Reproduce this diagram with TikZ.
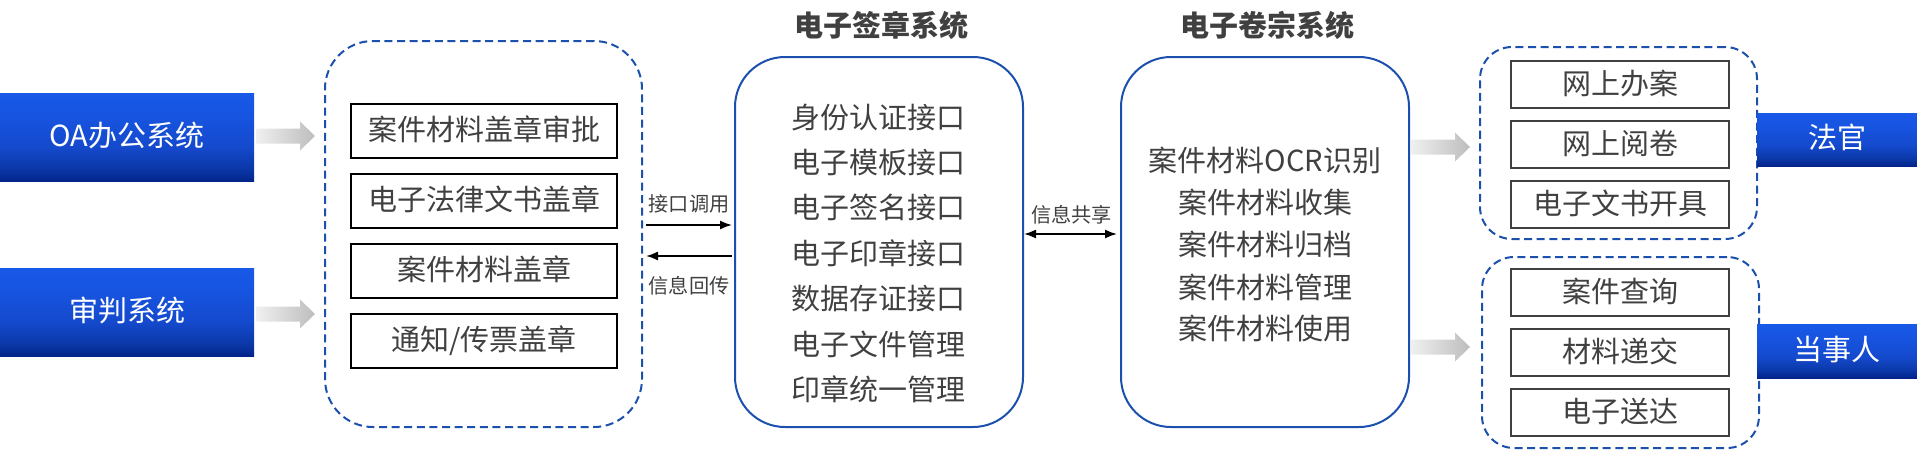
\documentclass[tikz,border=0pt]{standalone}
\usepackage{fontspec}
\setmainfont{Noto Sans CJK SC}
\usetikzlibrary{arrows.meta,calc}
\definecolor{ink}{HTML}{404040}
\definecolor{edge}{HTML}{1B50AC}
\definecolor{fadeA}{HTML}{02248A}
\definecolor{fadeB}{HTML}{0B38A8}
\definecolor{fadeC}{HTML}{1449CC}
\definecolor{fadeD}{HTML}{1754E0}
\definecolor{fadeE}{HTML}{1859E8}
\definecolor{arrowL}{HTML}{F0F0F0}
\definecolor{arrowR}{HTML}{BDBDBD}
\pgfdeclareverticalshading{bluefade}{100bp}{
  color(0bp)=(fadeA);
  color(25bp)=(fadeA);
  color(32bp)=(fadeB);
  color(44bp)=(fadeC);
  color(62bp)=(fadeD);
  color(75bp)=(fadeE);
  color(100bp)=(fadeE)}
\tikzset{
  txt/.style={font=\fontsize{29pt}{29pt}\selectfont,text=ink,inner sep=0pt,outer sep=0pt,text height=24pt,text depth=3pt},
  small/.style={font=\fontsize{20.2pt}{20pt}\selectfont,text=ink,inner sep=0pt,outer sep=0pt,text height=17pt,text depth=2pt},
  heading/.style={txt,font=\fontsize{29pt}{29pt}\selectfont\bfseries},
  bluebox/.style={shade,shading=bluefade,shading angle=0,txt,text=white,text depth=6pt,outer sep=0pt},
  blackbox/.style={txt,text depth=5pt,draw=black,line width=2pt,minimum width=266pt,minimum height=54pt},
  graybox/.style={txt,text depth=4pt,draw=ink,line width=2pt,minimum width=218pt,minimum height=47pt},
  dashbox/.style={draw=edge,line width=2pt,dash pattern=on 8pt off 4.6pt,outer sep=0pt,inner sep=0pt},
  solidbox/.style={draw=edge,line width=2pt,rounded corners=50pt,outer sep=0pt,inner sep=0pt},
  conn/.style={line width=1.6pt,black},
  tipR/.style={conn,-{Latex[length=12pt,width=9pt]}},
  tipL/.style={conn,{Latex[length=12pt,width=9pt]}-},
  tipB/.style={conn,{Latex[length=12pt,width=9pt]}-{Latex[length=12pt,width=9pt]}},
  pics/greyarrow/.style={code={
    \shade[left color=arrowL,right color=arrowR]
      (0,-7.5) -- (44,-7.5) -- (44,-14.5) -- (59,0) -- (44,14.5) -- (44,7.5) -- (0,7.5) -- cycle;}},
}
\begin{document}
\begin{tikzpicture}[x=1pt,y=-1pt]
\useasboundingbox (0,0) rectangle (1917,450);
% dashed groups
\node[dashbox,rounded corners=48pt,minimum width=317pt,minimum height=386pt] (groupA) at (483.5,234) {};
\node[dashbox,rounded corners=32pt,minimum width=277pt,minimum height=192pt] (groupB) at (1618.5,143) {};
\node[dashbox,rounded corners=32pt,minimum width=277pt,minimum height=191pt] (groupC) at (1620.5,352.5) {};
% left sources
\node[bluebox,minimum width=254pt,minimum height=88pt] (oa) at (127,137) {OA办公系统};
\node[bluebox,minimum width=254pt,minimum height=88pt] (trial) at (127,312) {审判系统};
% right targets
\node[bluebox,minimum width=160pt,minimum height=53pt] (judge) at (1837,139.5) {法官};
\node[bluebox,minimum width=160pt,minimum height=54pt] (party) at (1837,351) {当事人};
% left inner boxes
\node[blackbox] (a1) at (484,131) {案件材料盖章审批};
\node[blackbox] (a2) at (484,201) {电子法律文书盖章};
\node[blackbox] (a3) at (484,271) {案件材料盖章};
\node[blackbox] (a4) at (484,341) {通知/传票盖章};
% central boxes
\node[solidbox,minimum width=288pt,minimum height=370pt] (sign) at (879,242) {};
\node[solidbox,minimum width=288pt,minimum height=370pt] (arch) at (1265,242) {};
\node[heading] (signT) at (881,26) {电子签章系统};
\node[heading] (archT) at (1267,26) {电子卷宗系统};
\node[txt] (s1) at (878,118) {身份认证接口};
\node[txt] (s2) at (878,163) {电子模板接口};
\node[txt] (s3) at (878,208) {电子签名接口};
\node[txt] (s4) at (878,254) {电子印章接口};
\node[txt] (s5) at (878,299) {数据存证接口};
\node[txt] (s6) at (878,345) {电子文件管理};
\node[txt] (s7) at (878,390) {印章统一管理};
\node[txt] (r1) at (1265,161) {案件材料OCR识别};
\node[txt] (r2) at (1265,203) {案件材料收集};
\node[txt] (r3) at (1265,245) {案件材料归档};
\node[txt] (r4) at (1265,288) {案件材料管理};
\node[txt] (r5) at (1265,329) {案件材料使用};
% right inner boxes
\node[graybox] (b1) at (1620,84.5) {网上办案};
\node[graybox] (b2) at (1620,144.5) {网上阅卷};
\node[graybox] (b3) at (1620,204.5) {电子文书开具};
\node[graybox] (c1) at (1620,292.5) {案件查询};
\node[graybox] (c2) at (1620,352.5) {材料递交};
\node[graybox] (c3) at (1620,412.5) {电子送达};
% grey block arrows
\pic at ([xshift=2pt]oa.east |- 0,136) {greyarrow};
\pic at ([xshift=2pt]trial.east |- 0,314) {greyarrow};
\pic at ([xshift=2pt]arch.east |- 0,147) {greyarrow};
\pic at ([xshift=2pt]arch.east |- 0,347) {greyarrow};
% connector labels
\node[small] (lCall) at (689,204) {接口调用};
\node[small] (lBack) at (689,286) {信息回传};
\node[small] (lShare) at (1071.5,215) {信息共享};
% connectors
\coordinate (rowA) at (0,225);
\coordinate (rowB) at (0,256);
\coordinate (rowC) at (0,234);
\draw[tipR] ([xshift=4pt]groupA.east |- rowA) -- ([xshift=-3pt]sign.west |- rowA);
\draw[tipL] ([xshift=4pt]groupA.east |- rowB) -- ([xshift=-3pt]sign.west |- rowB);
\draw[tipB] ([xshift=1pt]sign.east |- rowC) -- ([xshift=-4pt]arch.west |- rowC);
\end{tikzpicture}
\end{document}
